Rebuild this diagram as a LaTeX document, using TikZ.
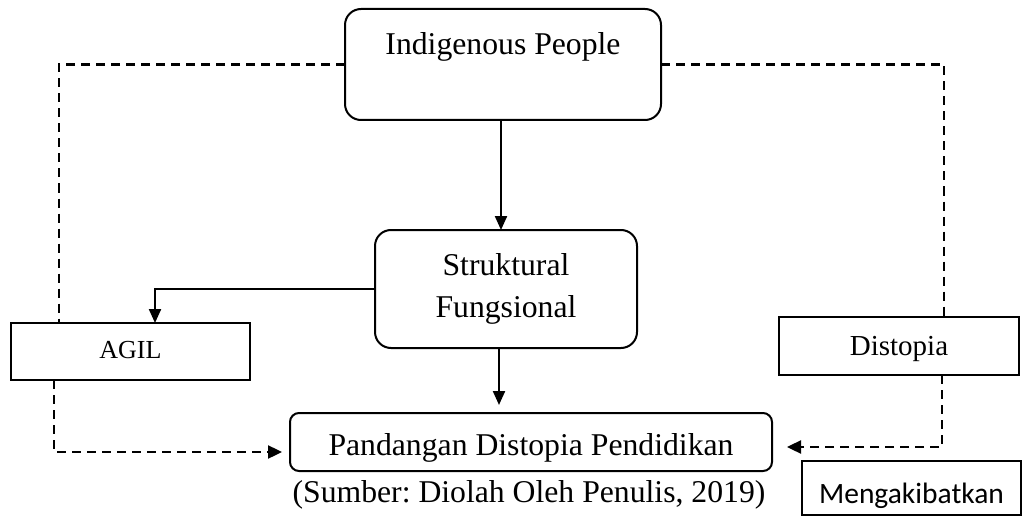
\documentclass[tikz,border=0pt]{standalone}
\usepackage{fontspec}
\setmainfont{Liberation Serif}
\newfontfamily\calfont{Carlito}
\usetikzlibrary{arrows.meta}
\begin{document}
\frenchspacing
\begin{tikzpicture}[x=1pt,y=-1pt,
  box/.style={draw, line width=2pt, inner sep=0pt, outer sep=0pt, anchor=base},
  rbox/.style={box, rounded corners=16pt},
  arr/.style={line width=2.2pt, -{Triangle[length=14pt,width=12pt]}},
  dsh/.style={line width=2.4pt, dash pattern=on 9pt off 6pt},
  darr/.style={dsh, -{Triangle[length=14pt,width=13pt]}},
  big/.style={font=\fontsize{31.7}{42}\selectfont}]
\useasboundingbox (0,0) rectangle (1023,516);
% nodes
\node[rbox, big, minimum width=316pt, text height=46pt, text depth=65pt] (ind) at (503,55) {Indigenous People};
\node[draw, line width=2pt, rounded corners=16pt, inner sep=0pt, outer sep=0pt,
      minimum width=262pt, minimum height=118pt, align=center, big] (struk) at (506,289) {Struktural\\Fungsional};
\node[box, rounded corners=9pt, big, minimum width=482pt, text height=42pt, text depth=16pt] (pand) at (531,455) {Pandangan Distopia Pendidikan};
\node[box, font=\fontsize{26}{30}\selectfont, minimum width=239pt, text height=35pt, text depth=22pt] (agil) at (130.5,358) {AGIL};
\node[box, font=\fontsize{29}{34}\selectfont, minimum width=240pt, text height=38pt, text depth=20pt] (dist) at (899,355) {Distopia};
\node[box, font=\calfont\fontsize{29.5}{34}\selectfont, minimum width=219pt, text height=42pt, text depth=12pt] (meng) at (911.5,503) {Mengakibatkan};
\node[anchor=base, inner sep=0pt, big] (cap) at (529,502) {(Sumber: Diolah Oleh Penulis, 2019)};
% coordinates for free ends
\coordinate (pl) at (282,452);
\coordinate (pr) at (787,447);
% solid arrows
\draw[arr] (501,0 |- ind.south) -- (501,0 |- struk.north);
\draw[arr] (struk.west) -| (155,0 |- agil.north);
\draw[arr] (499,0 |- struk.south) -- (499,405);
% dashed connectors
\draw[dsh] (ind.west) -| (59,0 |- agil.north);
\draw[dsh] (ind.east) -| (944,0 |- dist.north);
\draw[darr] (54,0 |- agil.south) |- (pl);
\draw[darr] (942,0 |- dist.south) |- (pr);
\end{tikzpicture}
\end{document}
